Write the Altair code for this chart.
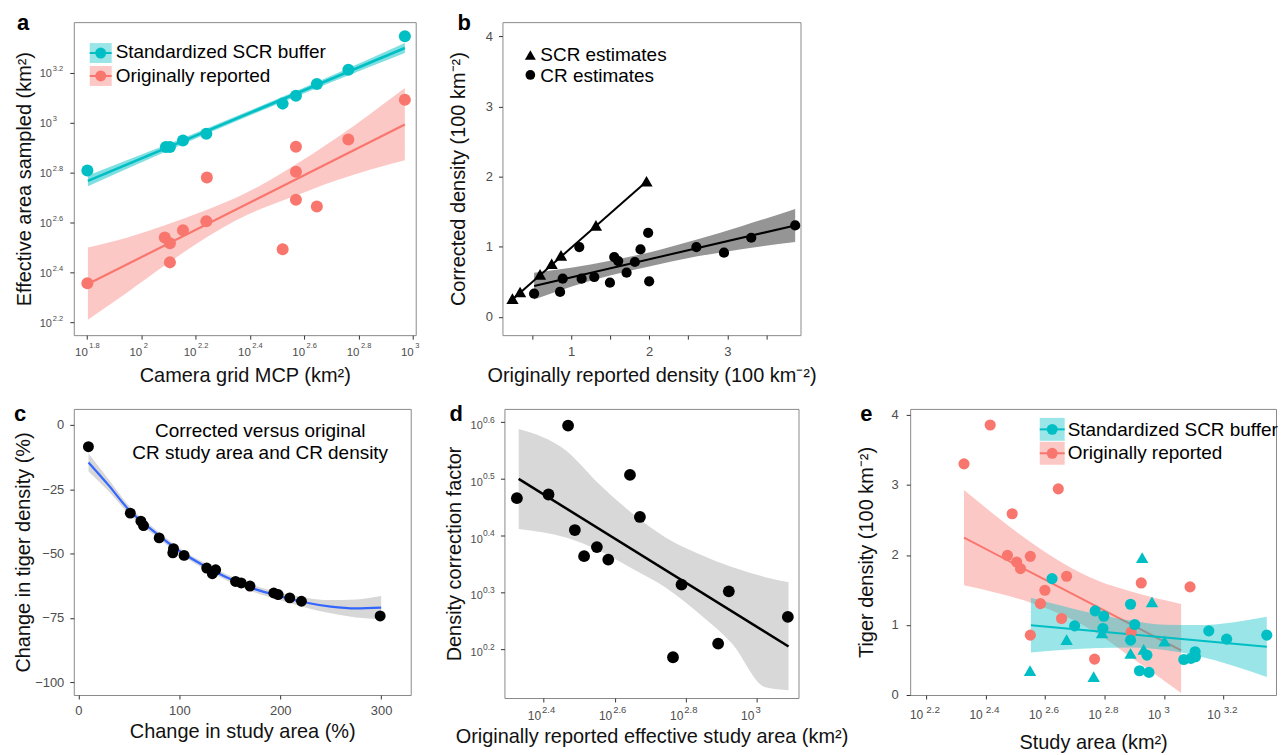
import altair as alt
import pandas as pd

FONT = "Liberation Sans"
TEAL = "#00BFC4"
RED = "#F8766D"
LABEL = "#4d4d4d"

# ---------------- panel a (log10 values) ----------------
a_xticks = [1.8, 2.0, 2.2, 2.4, 2.6, 2.8, 3.0]
a_xexp = ["1.8", "2", "2.2", "2.4", "2.6", "2.8", "3"]
a_yticks = [2.2, 2.4, 2.6, 2.8, 3.0, 3.2]
a_yexp = ["2.2", "2.4", "2.6", "2.8", "3", "3.2"]
a_scr_mcp = [1.802, 2.091, 2.106, 2.154, 2.240, 2.521, 2.570, 2.647, 2.763, 2.971]
a_scr_area = [2.809, 2.903, 2.903, 2.929, 2.956, 3.077, 3.109, 3.156, 3.213, 3.347]
a_orig_mcp = [1.802, 2.087, 2.106, 2.106, 2.154, 2.240, 2.242, 2.521, 2.570, 2.570, 2.570, 2.647, 2.763, 2.971]
a_orig_area = [2.356, 2.540, 2.517, 2.440, 2.569, 2.605, 2.781, 2.493, 2.904, 2.804, 2.691, 2.664, 2.933, 3.093]
a_scr_fit_x = [1.804, 2.971]
a_scr_fit_y = [2.767, 3.300]
a_orig_fit_x = [1.804, 2.971]
a_orig_fit_y = [2.353, 2.993]
a_scr_band_x = [1.804, 2.1, 2.4, 2.7, 2.971]
a_scr_band_lo = [2.745, 2.889, 3.029, 3.163, 3.280]
a_scr_band_hi = [2.789, 2.915, 3.049, 3.189, 3.320]
a_orig_band_x = [1.804, 1.95, 2.09, 2.24, 2.38, 2.55, 2.72, 2.971]
a_orig_band_lo = [2.21, 2.32, 2.43, 2.54, 2.625, 2.70, 2.77, 2.85]
a_orig_band_hi = [2.50, 2.54, 2.59, 2.65, 2.715, 2.82, 2.94, 3.14]

# ---------------- panel b ----------------
b_xticks = [0.5, 1, 1.5, 2, 2.5, 3, 3.5]
b_yticks = [0, 1, 2, 3, 4]
b_scr_x = [0.251, 0.349, 0.604, 0.753, 0.872, 1.319, 1.966]
b_scr_y = [0.261, 0.356, 0.607, 0.759, 0.878, 1.305, 1.936]
b_cr_x = [0.528, 0.860, 0.894, 1.106, 1.136, 1.298, 1.498, 1.553, 1.604, 1.711, 1.817, 1.889, 1.987, 2.0, 2.604, 2.957, 3.306, 3.868]
b_cr_y = [0.332, 0.356, 0.546, 0.996, 0.546, 0.569, 0.489, 0.854, 0.797, 0.631, 0.783, 0.963, 1.200, 0.508, 0.996, 0.916, 1.129, 1.305]
b_scr_fit_x = [0.251, 1.966]
b_scr_fit_y = [0.25, 1.93]
b_cr_fit_x = [0.528, 3.868]
b_cr_fit_y = [0.441, 1.305]
b_band_x = [0.528, 1.0, 1.5, 2.0, 2.6, 3.2, 3.868]
b_band_lo = [0.25, 0.43, 0.59, 0.72, 0.86, 0.97, 1.07]
b_band_hi = [0.63, 0.70, 0.80, 0.92, 1.10, 1.30, 1.54]

# ---------------- panel c ----------------
c_xticks = [0, 100, 200, 300]
c_yticks = [0, -25, -50, -75, -100]
c_x = [9.9, 51.4, 61.9, 64.5, 80, 93.5, 94.2, 104.7, 127.1, 132.7, 136, 155.7, 161.3, 170, 193.6, 197.9, 209.4, 221, 299]
c_y = [-8.5, -34.3, -37.4, -39.1, -43.9, -49.7, -48.1, -50.7, -55.6, -57.8, -56.3, -60.8, -61.4, -62.6, -65.3, -65.9, -67.2, -68.5, -74.2]
c_fit_x = [10, 30, 50, 75, 100, 125, 150, 175, 200, 225, 250, 275, 300]
c_fit_y = [-14.6, -23.5, -33.0, -41.5, -49.0, -54.8, -59.8, -63.8, -66.6, -69.0, -70.6, -71.3, -71.0]
c_band_lo = [-18.1, -25.8, -34.6, -42.8, -50.2, -56.0, -61.0, -65.1, -68.1, -70.9, -73.2, -74.8, -75.5]
c_band_hi = [-11.1, -21.2, -31.4, -40.2, -47.8, -53.6, -58.6, -62.5, -65.1, -67.1, -68.0, -67.8, -66.5]

# ---------------- panel d (log10 values) ----------------
d_xticks = [2.4, 2.6, 2.8, 3.0]
d_xexp = ["2.4", "2.6", "2.8", "3"]
d_yticks = [0.2, 0.3, 0.4, 0.5, 0.6]
d_yexp = ["0.2", "0.3", "0.4", "0.5", "0.6"]
d_x = [2.325, 2.414, 2.469, 2.488, 2.514, 2.550, 2.582, 2.643, 2.671, 2.764, 2.788, 2.891, 2.921, 3.087]
d_y = [0.4651, 0.4716, 0.593, 0.409, 0.363, 0.379, 0.357, 0.506, 0.432, 0.185, 0.313, 0.209, 0.301, 0.256]
d_fit_x = [2.330, 3.089]
d_fit_y = [0.499, 0.204]
d_band_x = [2.330, 2.463, 2.556, 2.650, 2.743, 2.837, 2.930, 3.024, 3.089]
d_band_lo = [0.411, 0.396, 0.373, 0.341, 0.308, 0.262, 0.209, 0.132, 0.127]
d_band_hi = [0.587, 0.549, 0.490, 0.438, 0.396, 0.367, 0.344, 0.326, 0.317]

# ---------------- panel e ----------------
e_xticks = [2.2, 2.4, 2.6, 2.8, 3.0, 3.2]
e_xexp = ["2.2", "2.4", "2.6", "2.8", "3", "3.2"]
e_yticks = [0, 1, 2, 3, 4]
e_orig_x = [2.327, 2.415, 2.489, 2.473, 2.504, 2.517, 2.550, 2.599, 2.584, 2.550, 2.644, 2.672, 2.655, 2.766, 2.923, 2.889, 3.087]
e_orig_y = [3.302, 3.857, 2.589, 1.995, 1.900, 1.805, 1.981, 1.496, 1.306, 0.855, 2.945, 1.696, 1.093, 0.513, 1.601, 0.900, 1.544]
e_scr_cx = [2.623, 2.699, 2.768, 2.797, 2.794, 2.887, 2.901, 2.887, 2.917, 2.949, 2.942, 3.066, 3.090, 3.104, 3.105, 3.150, 3.210, 3.345]
e_scr_cy = [1.663, 0.988, 1.202, 1.126, 0.950, 1.297, 1.007, 0.784, 0.347, 0.323, 0.570, 0.508, 0.523, 0.618, 0.546, 0.917, 0.798, 0.855]
e_scr_tx = [2.549, 2.672, 2.763, 2.791, 2.887, 2.926, 2.931, 2.959, 3.001]
e_scr_ty = [0.347, 0.793, 0.261, 0.888, 0.594, 1.962, 0.651, 1.330, 0.770]
e_orig_fit_x = [2.327, 3.057]
e_orig_fit_y = [2.247, 0.637]
e_scr_fit_x = [2.552, 3.345]
e_scr_fit_y = [0.998, 0.689]
e_orig_band_x = [2.327, 2.442, 2.554, 2.666, 2.778, 2.889, 3.057]
e_orig_band_lo = [1.567, 1.453, 1.316, 1.129, 0.872, 0.538, 0.03]
e_orig_band_hi = [2.927, 2.533, 2.176, 1.869, 1.632, 1.478, 1.30]
e_scr_band_x = [2.552, 2.778, 2.889, 3.001, 3.113, 3.345]
e_scr_band_lo = [0.608, 0.670, 0.680, 0.643, 0.559, 0.259]
e_scr_band_hi = [1.388, 1.150, 1.060, 1.003, 0.999, 1.119]


def one():
    return pd.DataFrame({"k": [0]})


def mk(scale, axis, ch):
    def f(field):
        if ch == "x":
            return alt.X(f"{field}:Q", scale=scale, axis=axis)
        return alt.Y(f"{field}:Q", scale=scale, axis=axis)
    return f


def xy_df(xs, ys):
    return pd.DataFrame({"x": xs, "y": ys})


def band_df(xs, lo, hi):
    return pd.DataFrame({"x": xs, "lo": lo, "hi": hi})


def band(df, X, Y, color, opacity):
    return alt.Chart(df).mark_area(color=color, opacity=opacity, interpolate="monotone").encode(
        x=X("x"), y=Y("lo"), y2=alt.Y2("hi"))


def line(df, X, Y, color, width, interp="linear"):
    return alt.Chart(df).mark_line(color=color, strokeWidth=width, interpolate=interp).encode(x=X("x"), y=Y("y"))


def circles(df, X, Y, color, size):
    return alt.Chart(df).mark_circle(color=color, size=size, opacity=1).encode(x=X("x"), y=Y("y"))


def triangles(df, X, Y, color, size):
    return alt.Chart(df).mark_point(shape="triangle-up", filled=True, color=color, size=size, opacity=1).encode(
        x=X("x"), y=Y("y"))


def xexp_labels(ticks, exps, X, y10, yexp, f10, fexp, dx10, dxexp):
    df = pd.DataFrame({"v": ticks, "e": exps})
    base = alt.Chart(df)
    t1 = base.mark_text(text="10", align="right", baseline="middle", fontSize=f10, color=LABEL, dx=dx10).encode(
        x=X("v"), y=alt.value(y10))
    t2 = base.mark_text(align="left", baseline="middle", fontSize=fexp, color=LABEL, dx=dxexp).encode(
        x=X("v"), y=alt.value(yexp), text="e:N")
    return [t1, t2]


def yexp_labels(ticks, exps, Y, x10, xexp, dy10, dyexp, f10, fexp):
    df = pd.DataFrame({"v": ticks, "e": exps})
    base = alt.Chart(df)
    t1 = base.mark_text(text="10", align="right", baseline="middle", fontSize=f10, color=LABEL, dy=dy10).encode(
        x=alt.value(x10), y=Y("v"))
    t2 = base.mark_text(align="left", baseline="middle", fontSize=fexp, color=LABEL, dy=dyexp).encode(
        x=alt.value(xexp), y=Y("v"), text="e:N")
    return [t1, t2]


def txt(s, x, y, size=19, align="left", weight="normal", color="black", baseline="middle"):
    return alt.Chart(one()).mark_text(text=s, align=align, baseline=baseline, fontSize=size,
                                      fontWeight=weight, color=color).encode(x=alt.value(x), y=alt.value(y))


def key_box(x1, x2, y1, y2, color):
    cy = (y1 + y2) / 2
    cx = (x1 + x2) / 2
    r = alt.Chart(one()).mark_rect(color=color, opacity=0.4).encode(
        x=alt.value(x1), x2=alt.value(x2), y=alt.value(y1), y2=alt.value(y2))
    ru = alt.Chart(one()).mark_rule(color=color, strokeWidth=2).encode(
        x=alt.value(x1), x2=alt.value(x2), y=alt.value(cy))
    p = alt.Chart(one()).mark_circle(color=color, size=120, opacity=1).encode(x=alt.value(cx), y=alt.value(cy))
    return [r, ru, p]


def yaxis(values, title, tx, labels=False, pad=6):
    kw = dict(values=values, title=title, labels=labels, titleX=tx, titleBaseline="middle")
    if labels:
        kw["labelPadding"] = pad
    return alt.Axis(**kw)


def xaxis(values, title, ty, labels=False, pad=6, expr=None):
    kw = dict(values=values, title=title, labels=labels, titleY=ty, titleBaseline="middle")
    if labels:
        kw["labelPadding"] = pad
    if expr:
        kw["labelExpr"] = expr
    return alt.Axis(**kw)


def spacer(w, h):
    return alt.Chart(one()).mark_point(opacity=0).encode(x=alt.value(0), y=alt.value(0)).properties(
        width=w, height=h, view=alt.ViewBackground(strokeOpacity=0))


# ================= panel a =================
WA, HA = 343, 314
Xa = mk(alt.Scale(domain=[1.752, 3.011], nice=False, zero=False),
        xaxis(a_xticks, "Camera grid MCP (km²)", 40), "x")
Ya = mk(alt.Scale(domain=[2.148, 3.404], nice=False, zero=False),
        yaxis(a_yticks, "Effective area sampled (km²)", -49), "y")
pa = alt.layer(
    band(band_df(a_orig_band_x, a_orig_band_lo, a_orig_band_hi), Xa, Ya, RED, 0.4),
    band(band_df(a_scr_band_x, a_scr_band_lo, a_scr_band_hi), Xa, Ya, TEAL, 0.5),
    line(xy_df(a_orig_fit_x, a_orig_fit_y), Xa, Ya, RED, 2.2),
    line(xy_df(a_scr_fit_x, a_scr_fit_y), Xa, Ya, TEAL, 2.6),
    circles(xy_df(a_orig_mcp, a_orig_area), Xa, Ya, RED, 145),
    circles(xy_df(a_scr_mcp, a_scr_area), Xa, Ya, TEAL, 145),
    *xexp_labels(a_xticks, a_xexp, Xa, HA + 18, HA + 10.5, 11.5, 7.5, 1, 2.5),
    *yexp_labels(a_yticks, a_yexp, Ya, -22, -21, 1.5, -3.5, 11, 7.5),
    *key_box(16, 38, 21, 41, TEAL),
    *key_box(16, 38, 44, 64, RED),
    txt("Standardized SCR buffer", 42, 30),
    txt("Originally reported", 42, 54),
    txt("a", -57, 8, size=22, weight="bold", baseline="alphabetic"),
).properties(width=WA, height=HA)

# ================= panel b =================
WB, HB = 299, 314
Xb = mk(alt.Scale(domain=[0.123, 3.936], nice=False, zero=False),
        xaxis(b_xticks, "Originally reported density (100 km⁻²)", 40, labels=True, pad=6,
              expr="datum.value % 1 == 0 ? format(datum.value, 'd') : ''"), "x")
Yb = mk(alt.Scale(domain=[-0.26, 4.204], nice=False, zero=False),
        yaxis(b_yticks, "Corrected density (100 km⁻²)", -44, labels=True, pad=6), "y")
pb = alt.layer(
    band(band_df(b_band_x, b_band_lo, b_band_hi), Xb, Yb, "#8f8f8f", 0.95),
    line(xy_df(b_cr_fit_x, b_cr_fit_y), Xb, Yb, "black", 2),
    line(xy_df(b_scr_fit_x, b_scr_fit_y), Xb, Yb, "black", 2),
    circles(xy_df(b_cr_x, b_cr_y), Xb, Yb, "black", 105),
    triangles(xy_df(b_scr_x, b_scr_y), Xb, Yb, "black", 150),
    alt.Chart(one()).mark_point(shape="triangle-up", filled=True, color="black", size=120, opacity=1).encode(
        x=alt.value(28), y=alt.value(33)),
    alt.Chart(one()).mark_circle(color="black", size=95, opacity=1).encode(x=alt.value(28), y=alt.value(53)),
    txt("SCR estimates", 38, 33),
    txt("CR estimates", 38, 54),
    txt("b", -45, 8, size=22, weight="bold", baseline="alphabetic"),
).properties(width=WB, height=HB)

# ================= panel c =================
WC, HC = 338, 287
Xc = mk(alt.Scale(domain=[-4.6, 329.3], nice=False, zero=False),
        xaxis(c_xticks, "Change in study area (%)", 37, labels=True, pad=6), "x")
Yc = mk(alt.Scale(domain=[-104.9, 6.17], nice=False, zero=False),
        yaxis(c_yticks, "Change in tiger density (%)", -50.5, labels=True, pad=6), "y")
pc = alt.layer(
    band(band_df(c_fit_x, c_band_lo, c_band_hi), Xc, Yc, "#bdbdbd", 0.6),
    line(xy_df(c_fit_x, c_fit_y), Xc, Yc, "#3366FF", 2.2, "monotone"),
    circles(xy_df(c_x, c_y), Xc, Yc, "black", 120),
    txt("Corrected versus original", 187, 22, align="center"),
    txt("CR study area and CR density", 187, 44, align="center"),
    txt("c", -60, 12, size=22, weight="bold", baseline="alphabetic"),
).properties(width=WC, height=HC)

# ================= panel d =================
WD, HD = 295, 290
Xd = mk(alt.Scale(domain=[2.290, 3.117], nice=False, zero=False),
        xaxis(d_xticks, "Originally reported effective study area (km²)", 39), "x")
Yd = mk(alt.Scale(domain=[0.1132, 0.6223], nice=False, zero=False),
        yaxis(d_yticks, "Density correction factor", -50), "y")
pdd = alt.layer(
    band(band_df(d_band_x, d_band_lo, d_band_hi), Xd, Yd, "#c8c8c8", 0.7),
    line(xy_df(d_fit_x, d_fit_y), Xd, Yd, "black", 2.5),
    circles(xy_df(d_x, d_y), Xd, Yd, "black", 140),
    *xexp_labels(d_xticks, d_xexp, Xd, HD + 18.5, HD + 12.5, 12, 9.5, -2.5, -1.5),
    *yexp_labels(d_yticks, d_yexp, Yd, -21.7, -21.5, 4.5, -2, 11, 8.5),
    txt("d", -55, 12, size=22, weight="bold", baseline="alphabetic"),
).properties(width=WD, height=HD)

# ================= panel e =================
WE, HE = 367, 287
Xe = mk(alt.Scale(domain=[2.146, 3.376], nice=False, zero=False),
        xaxis(e_xticks, "Study area (km²)", 48), "x")
Ye = mk(alt.Scale(domain=[0, 4.087], nice=False, zero=False),
        yaxis(e_yticks, "Tiger density (100 km⁻²)", -44, labels=True, pad=8), "y")
pe = alt.layer(
    band(band_df(e_orig_band_x, e_orig_band_lo, e_orig_band_hi), Xe, Ye, RED, 0.4),
    line(xy_df(e_orig_fit_x, e_orig_fit_y), Xe, Ye, RED, 2),
    band(band_df(e_scr_band_x, e_scr_band_lo, e_scr_band_hi), Xe, Ye, TEAL, 0.4),
    line(xy_df(e_scr_fit_x, e_scr_fit_y), Xe, Ye, TEAL, 2),
    circles(xy_df(e_orig_x, e_orig_y), Xe, Ye, RED, 125),
    circles(xy_df(e_scr_cx, e_scr_cy), Xe, Ye, TEAL, 125),
    triangles(xy_df(e_scr_tx, e_scr_ty), Xe, Ye, TEAL, 155),
    *xexp_labels(e_xticks, e_xexp, Xe, HE + 20, HE + 15, 12, 10, -3, 0),
    *key_box(130, 155, 9, 32, TEAL),
    *key_box(130, 155, 33, 56, RED),
    txt("Standardized SCR buffer", 158, 21),
    txt("Originally reported", 158, 44),
    txt("e", -50, 12, size=22, weight="bold", baseline="alphabetic"),
).properties(width=WE, height=HE)

top = alt.hconcat(pa, spacer(87, 10), pb, spacing=0, bounds="flush")
bottom = alt.hconcat(pc, spacer(94, 10), pdd, spacer(112, 10), pe, spacing=0, bounds="flush")

chart = alt.vconcat(top, bottom, spacing=16).properties(
    padding={"left": 5, "top": 2, "right": 0, "bottom": 0}
).configure(font=FONT).configure_view(
    stroke="#8a8a8a", strokeWidth=1
).configure_axis(
    domain=False, grid=False, tickColor="#333333", tickSize=4, tickWidth=1,
    labelColor=LABEL, labelFontSize=13, labelFont=FONT,
    titleFont=FONT, titleFontSize=20, titleFontWeight="normal", titleColor="#111111"
)

chart.save("out.html", embed_options={"renderer": "svg", "actions": False})
